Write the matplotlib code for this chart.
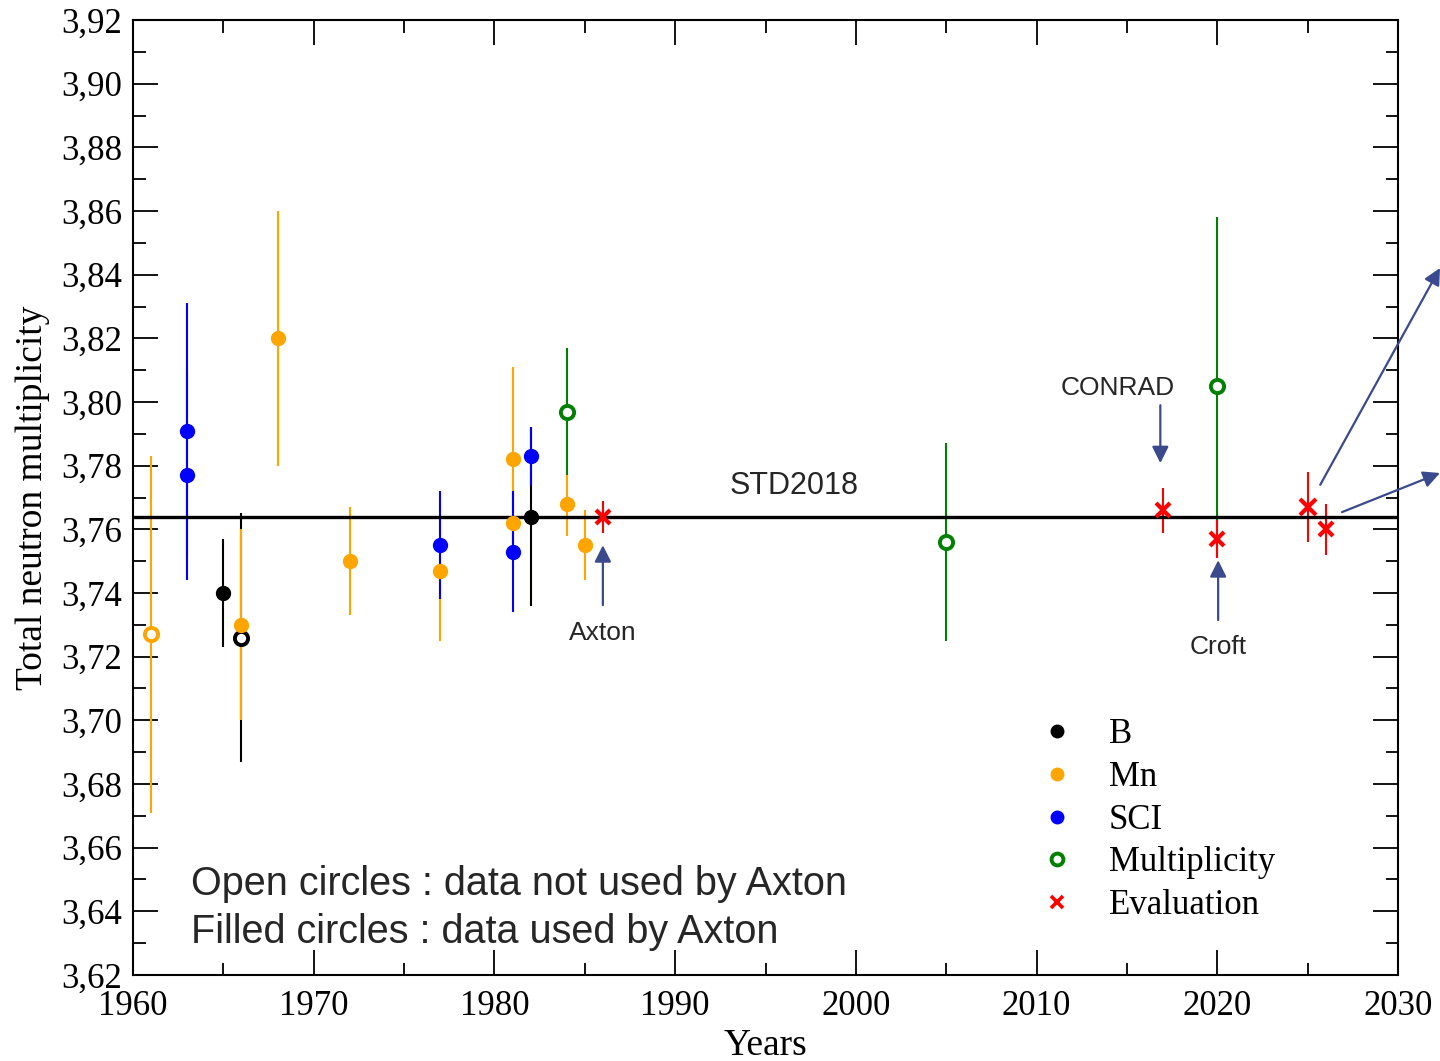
import matplotlib
matplotlib.use('Agg')
import matplotlib.pyplot as plt
from matplotlib.lines import Line2D
from matplotlib.ticker import MultipleLocator, FuncFormatter

# Valeurs (années, multiplicité, incertitude, cercle ouvert ?)
b_years = [1965, 1966, 1982]
b_vals = [3.740, 3.726, 3.764]
b_errs = [0.017, 0.039, 0.028]
b_open = [False, True, False]

mn_years = [1961, 1966, 1968, 1972, 1977, 1981, 1981, 1984, 1985]
mn_vals = [3.727, 3.730, 3.820, 3.750, 3.747, 3.782, 3.762, 3.768, 3.755]
mn_errs = [0.056, 0.030, 0.040, 0.017, 0.022, 0.029, 0.010, 0.010, 0.011]
mn_open = [True, False, False, False, False, False, False, False, False]

sci_years = [1963, 1963, 1977, 1981, 1982]
sci_vals = [3.791, 3.777, 3.755, 3.753, 3.783]
sci_errs = [0.040, 0.033, 0.017, 0.019, 0.009]
sci_open = [False, False, False, False, False]

mult_years = [1984, 2005, 2020]
mult_vals = [3.797, 3.756, 3.805]
mult_errs = [0.020, 0.031, 0.053]
mult_open = [True, True, True]

eval_years = [1986, 2017, 2020, 2025, 2026]
eval_vals = [3.764, 3.766, 3.757, 3.767, 3.760]
eval_errs = [0.005, 0.007, 0.006, 0.011, 0.008]
eval_sizes = [10, 10, 10, 12, 10]

std2018 = 3.764

series = [
    ('B', 'black', b_years, b_vals, b_errs, b_open),
    ('Mn', '#FFA500', mn_years, mn_vals, mn_errs, mn_open),
    ('SCI', '#0000FF', sci_years, sci_vals, sci_errs, sci_open),
    ('Multiplicity', '#008000', mult_years, mult_vals, mult_errs, mult_open),
]

ARROW = '#3b4a8c'
SANS = 'Liberation Sans'
SERIF = 'Liberation Serif'


def comma_fmt(v, pos):
    # format décimal avec virgule
    return f'{v:.2f}'.replace('.', ',')


def arrow(ax, xy, xytext, xycoords='data'):
    ax.annotate('', xy=xy, xycoords=xycoords, xytext=xytext, textcoords='data',
                annotation_clip=False,
                arrowprops=dict(arrowstyle='-|>,head_length=0.5,head_width=0.25',
                                color=ARROW, lw=1.6, mutation_scale=20,
                                shrinkA=0, shrinkB=0))


def main():
    fig = plt.figure(figsize=(14.4, 10.61), dpi=100)
    ax = fig.add_axes([0.0924, 0.0811, 0.8784, 0.9000])

    # barres d'erreur d'abord, marqueurs ensuite
    for name, color, xs, ys, es, opn in series:
        ax.errorbar(xs, ys, yerr=es, fmt='none', ecolor=color, elinewidth=1.5,
                    capsize=0, zorder=2)
    ax.errorbar(eval_years, eval_vals, yerr=eval_errs, fmt='none', ecolor='red',
                elinewidth=1.5, capsize=0, zorder=2)

    ax.axhline(std2018, color='black', lw=2.4, zorder=2.5)

    for name, color, xs, ys, es, opn in series:
        for x, y, o in zip(xs, ys, opn):
            if o:
                ax.plot(x, y, 'o', ms=9.5, mfc='white', mec=color, mew=2.8, zorder=3)
            else:
                ax.plot(x, y, 'o', ms=10, mfc=color, mec=color, zorder=3)
    for x, y, s in zip(eval_years, eval_vals, eval_sizes):
        ax.plot(x, y, 'x', ms=s, mec='red', mew=3, zorder=3)

    ax.set_xlim(1960, 2030)
    ax.set_ylim(3.62, 3.92)
    ax.xaxis.set_major_locator(MultipleLocator(10))
    ax.xaxis.set_minor_locator(MultipleLocator(5))
    ax.yaxis.set_major_locator(MultipleLocator(0.02))
    ax.yaxis.set_minor_locator(MultipleLocator(0.01))
    ax.yaxis.set_major_formatter(FuncFormatter(comma_fmt))
    ax.tick_params(which='both', direction='in', top=True, right=True, width=1.3)
    ax.tick_params(which='major', length=18, labelsize=25)
    ax.tick_params(which='minor', length=9)
    ax.tick_params(axis='x', which='major', pad=11)
    ax.tick_params(axis='y', which='major', pad=8)
    for lab in ax.get_xticklabels() + ax.get_yticklabels():
        lab.set_fontfamily(SERIF)
    for sp in ax.spines.values():
        sp.set_linewidth(1.5)

    ax.set_xlabel('Years', fontsize=27, family=SERIF, labelpad=4)
    ax.set_ylabel('Total neutron multiplicity', fontsize=27, family=SERIF, labelpad=8)

    # annotations
    txt = dict(family=SANS, color='#262626', ha='center', va='center')
    ax.text(1996.6, 3.7735, 'STD2018', fontsize=22, **txt)
    ax.text(1986, 3.7274, 'Axton', fontsize=19, **txt)
    ax.text(2014.5, 3.8044, 'CONRAD', fontsize=19, **txt)
    ax.text(2020.05, 3.723, 'Croft', fontsize=19, **txt)
    ax.text(1963.2, 3.6486, 'Open circles : data not used by Axton', fontsize=28.5,
            family=SANS, color='#262626', ha='left', va='center')
    ax.text(1963.2, 3.6335, 'Filled circles : data used by Axton', fontsize=28.5,
            family=SANS, color='#262626', ha='left', va='center')

    arrow(ax, (1986, 3.755), (1986, 3.7362))
    arrow(ax, (2016.85, 3.7808), (2016.85, 3.799))
    arrow(ax, (2020.05, 3.7503), (2020.05, 3.7315))
    arrow(ax, (1.0, 1 - 268 / 1061), (2025.7, 3.774), xycoords='figure fraction')
    arrow(ax, (1.0, 1 - 473 / 1061), (2026.9, 3.7654), xycoords='figure fraction')

    # légende
    handles = [
        Line2D([], [], ls='none', marker='o', ms=9, color='black'),
        Line2D([], [], ls='none', marker='o', ms=9, color='#FFA500'),
        Line2D([], [], ls='none', marker='o', ms=9, color='#0000FF'),
        Line2D([], [], ls='none', marker='o', ms=8.5, mfc='white', mec='#008000', mew=2.8),
        Line2D([], [], ls='none', marker='x', ms=8, mec='red', mew=2.6),
    ]
    labels = ['B', 'Mn', 'SCI', 'Multiplicity', 'Evaluation']
    ax.legend(handles, labels, loc='upper left', bbox_to_anchor=(0.7032, 0.287),
              frameon=False, handlelength=1.0, handletextpad=0.98,
              labelspacing=0.28, borderpad=0, prop=dict(family=SERIF, size=25))

    fig.savefig('out.png', dpi=100)


if __name__ == '__main__':
    main()
